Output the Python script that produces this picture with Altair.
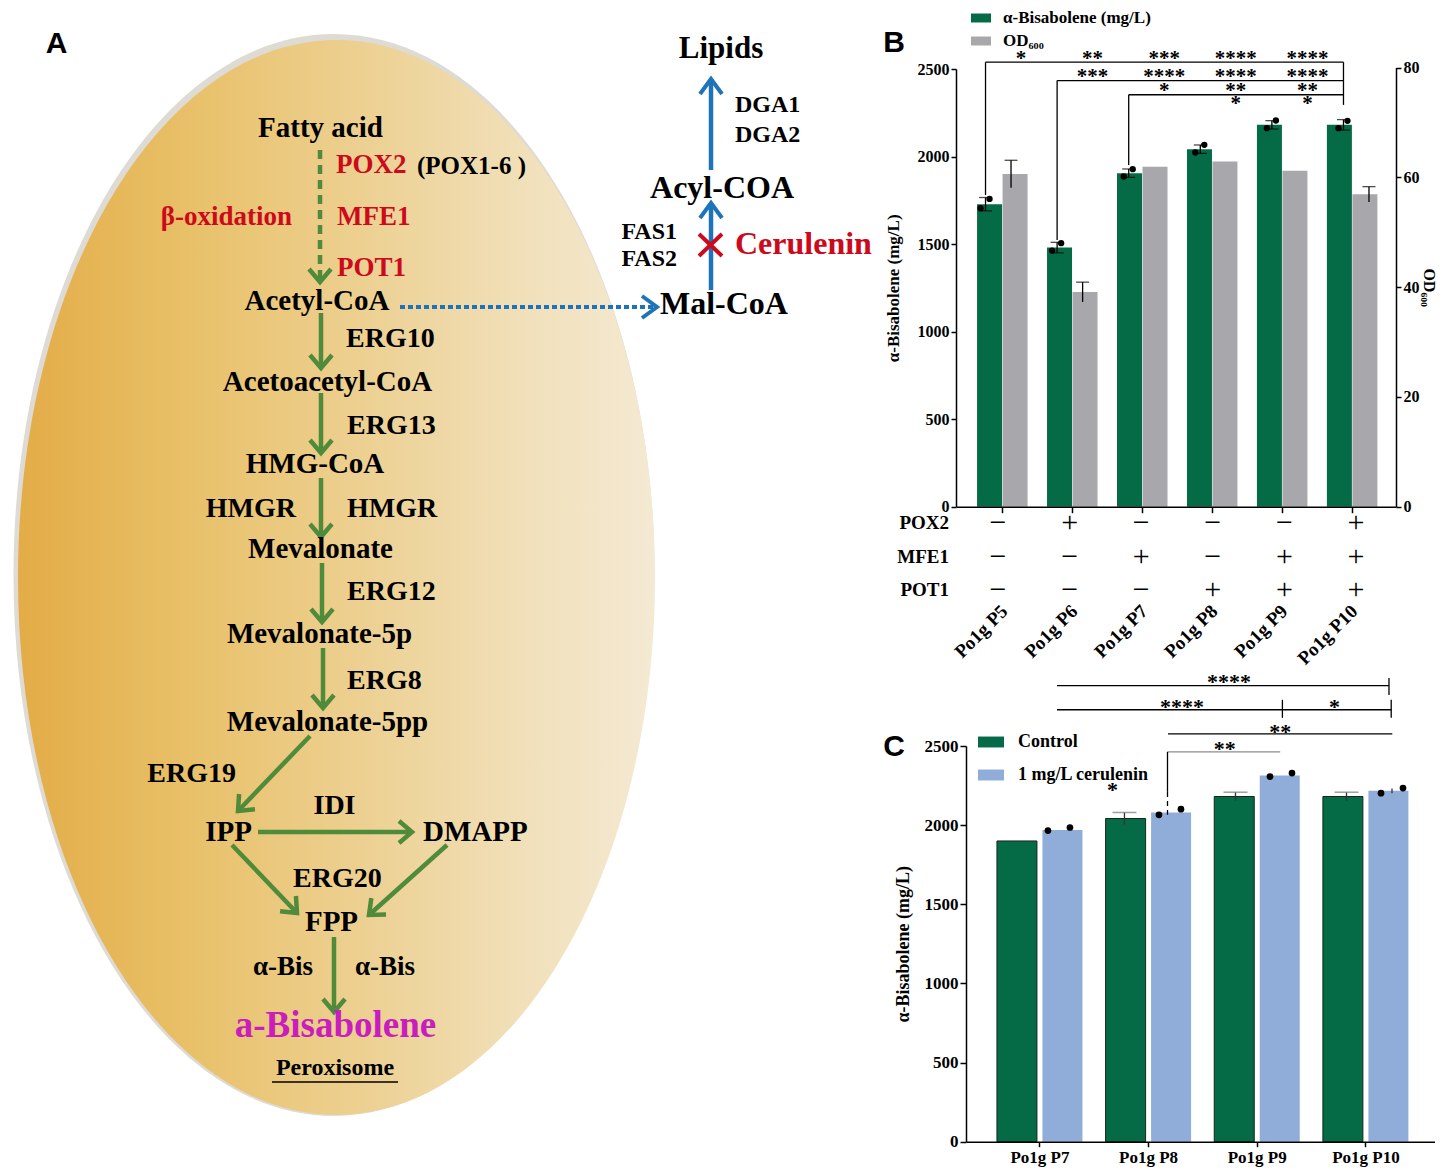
import math
import altair as alt
import pandas as pd

# ------------------------------------------------------------------
# Values
# ------------------------------------------------------------------
strains_b = ["Po1g P5", "Po1g P6", "Po1g P7", "Po1g P8", "Po1g P9", "Po1g P10"]
bis_mean = [1728, 1480, 1905, 2042, 2181, 2181]
bis_sd = [38, 30, 24, 24, 24, 30]
bis_rep1 = [1705, 1463, 1886, 2023, 2162, 2162]
bis_rep2 = [1758, 1505, 1928, 2067, 2206, 2204]
od_mean = [60.6, 39.1, 61.9, 62.9, 61.2, 56.9]
od_sd = [2.5, 1.8, 0.0, 0.0, 0.0, 1.4]
pox2 = ["−", "+", "−", "−", "−", "+"]
mfe1 = ["−", "−", "+", "−", "+", "+"]
pot1 = ["−", "−", "−", "+", "+", "+"]
gene_names = ["POX2", "MFE1", "POT1"]
series_b = ["α-Bisabolene (mg/L)", "OD₆₀₀"]

# significance marks, panel B (column = strain index, level in mg/L units)
b_star_col = [0, 1, 2, 3, 4, 1, 2, 3, 4, 2, 3, 4, 3, 4]
b_star_lvl = [2581, 2581, 2581, 2581, 2581, 2477, 2477, 2477, 2477, 2397, 2397, 2397, 2324, 2324]
b_star_txt = ["*", "**", "***", "****", "****", "***", "****", "****", "****", "*", "**", "**", "*", "*"]
b_brk_from = [0, 1, 2]
b_brk_to = [5, 5, 5]
b_brk_lvl = [2539, 2434, 2353]
b_drop_col = [0, 1, 2, 5]
b_drop_top = [2539, 2434, 2353, 2539]
b_drop_bot = [1780, 1524, 1952, 2295]

strains_c = ["Po1g P7", "Po1g P8", "Po1g P9", "Po1g P10"]
series_c = ["Control", "1 mg/L  cerulenin"]
ctrl_mean = [1900, 2042, 2181, 2181]
ctrl_sd = [0, 38, 27, 27]
cer_mean = [1970, 2080, 2313, 2217]
cer_sd = [0, 0, 0, 15]
cer_rep1 = [1966, 2065, 2307, 2202]
cer_rep2 = [1985, 2101, 2329, 2234]

# significance marks, panel C
c_brk_x0 = [0.19, 0.19, 1.19, 1.185]
c_brk_x1 = [3.18, 3.20, 3.21, 2.20]
c_brk_lvl = [2881, 2729, 2577, 2463]
c_brk_col = ["black", "black", "black", "#8c8c8c"]
c_tick_x = [3.18, 2.22, 3.20, 1.185]
c_tick_top = [2930, 2792, 2792, 2463]
c_tick_bot = [2823, 2678, 2678, 2210]
c_star_x = [1.74, 1.315, 2.69, 2.20, 1.70, 0.69]
c_star_lvl = [2931, 2773, 2773, 2615, 2508, 2248]
c_star_txt = ["****", "****", "*", "**", "**", "*"]

# ------------------------------------------------------------------
# Styles / layout
# ------------------------------------------------------------------
W, H = 1431, 1159
SERIF = "Liberation Serif"
SANS = "Liberation Sans"
GREEN = "#046B46"
GRAY = "#A8A8AC"
BLUE = "#8FADD8"
ARROW_GREEN = "#4F8B3B"
ARROW_BLUE = "#1E73B9"
RED = "#CC0A1C"
MAGENTA = "#C81EBE"

PX = alt.Scale(domain=[8, 8 + W], range=[0, W], nice=False, zero=False)
PY = alt.Scale(domain=[8, 8 + H], range=[0, H], nice=False, zero=False)


def pxy(xf="x", yf="y"):
    return dict(x=alt.X(f"{xf}:Q", scale=PX, axis=None),
                y=alt.Y(f"{yf}:Q", scale=PY, axis=None))


layers = []

# ---------------- diagram (panel A) ----------------
a = 1.0
b = 1.6876
k = 0.5523
ell_path = (f"M 0 {-b} C {k*a} {-b} {a} {-k*b} {a} 0 C {a} {k*b} {k*a} {b} 0 {b} "
            f"C {-k*a} {b} {-a} {k*b} {-a} 0 C {-a} {-k*b} {-k*a} {-b} 0 {-b} Z")
grad = alt.LinearGradient(
    gradient="linear",
    stops=[alt.GradientStop(color="#E3AC47", offset=0),
           alt.GradientStop(color="#E8BF66", offset=0.25),
           alt.GradientStop(color="#EDD193", offset=0.55),
           alt.GradientStop(color="#F1E0BA", offset=0.8),
           alt.GradientStop(color="#F4E9D3", offset=1)],
    x1=0, x2=1, y1=0.5, y2=0.5)

layers.append(alt.Chart(pd.DataFrame({"x": [334], "y": [575]})).mark_point(
    shape=ell_path, size=641 ** 2, filled=True, color="#DEDAD4", opacity=1, strokeWidth=0
).encode(**pxy()))
layers.append(alt.Chart(pd.DataFrame({"x": [336.5], "y": [577.5]})).mark_point(
    shape=ell_path, size=637 ** 2, filled=True, fill=grad, opacity=1, strokeWidth=0
).encode(**pxy()))

txt_center = pd.DataFrame([
    ("Fatty acid", 320.5, 127.5, 29, "black"),
    ("Acetyl-CoA", 317, 301, 29, "black"),
    ("Acetoacetyl-CoA", 327.5, 382, 29, "black"),
    ("HMG-CoA", 315, 464, 29, "black"),
    ("Mevalonate", 320.5, 549, 29, "black"),
    ("Mevalonate-5p", 319.5, 634, 29, "black"),
    ("Mevalonate-5pp", 327.5, 722, 29, "black"),
    ("IDI", 334.5, 806, 28, "black"),
    ("FPP", 331.5, 922, 29, "black"),
    ("a-Bisabolene", 335.5, 1026, 37, MAGENTA),
    ("Peroxisome", 335, 1068, 24, "black"),
    ("Lipids", 721, 49, 31, "black"),
    ("Acyl-COA", 722, 188, 32, "black"),
], columns=["label", "x", "y", "size", "color"])

txt_left = pd.DataFrame([
    ("POX2", 336, 165, 27, RED),
    ("(POX1-6 )", 417, 166, 25, "black"),
    ("MFE1", 337, 216.5, 27, RED),
    ("POT1", 337, 267.5, 27, RED),
    ("ERG10", 346, 339, 28, "black"),
    ("ERG13", 347, 426, 28, "black"),
    ("HMGR", 347, 509, 28, "black"),
    ("ERG12", 347, 592, 28, "black"),
    ("ERG8", 347, 681, 28, "black"),
    ("DMAPP", 423, 832, 29, "black"),
    ("ERG20", 293, 879, 28, "black"),
    ("α-Bis", 355, 967, 27, "black"),
    ("DGA1", 735, 104.5, 24, "black"),
    ("DGA2", 735, 135, 24, "black"),
    ("Cerulenin", 735, 244, 32, RED),
    ("Mal-CoA", 660, 304, 32, "black"),
], columns=["label", "x", "y", "size", "color"])

txt_right = pd.DataFrame([
    ("β-oxidation", 292, 217, 27, RED),
    ("HMGR", 296, 509, 28, "black"),
    ("ERG19", 236, 774, 28, "black"),
    ("IPP", 252, 832, 29, "black"),
    ("α-Bis", 313, 967, 27, "black"),
    ("FAS1", 677, 231.5, 24, "black"),
    ("FAS2", 677, 259, 24, "black"),
    ("POX2", 949, 523, 19, "black"),
    ("MFE1", 949, 557, 19, "black"),
    ("POT1", 949, 590, 19, "black"),
], columns=["label", "x", "y", "size", "color"])


def text_layer(df, align):
    return alt.Chart(df).mark_text(align=align, baseline="middle", font=SERIF,
                                   fontWeight="bold").encode(
        **pxy(), text="label:N",
        size=alt.Size("size:Q", scale=None),
        color=alt.Color("color:N", scale=None))


green_solid = pd.DataFrame([
    (321, 313, 321, 368), (321, 393, 321, 453), (321, 478, 321, 537),
    (322, 563, 322, 622), (323, 648, 323, 708), (310, 736, 238, 811),
    (258, 832, 412, 832), (232, 845, 297, 913), (447, 845, 369, 915),
    (334, 937, 334, 1012)], columns=["x", "y", "x2", "y2"])
green_dash = pd.DataFrame([(320, 150, 320, 282)], columns=["x", "y", "x2", "y2"])
blue_solid = pd.DataFrame([(711, 170, 711, 79), (711, 290, 711, 203)],
                          columns=["x", "y", "x2", "y2"])
blue_dot = pd.DataFrame([(400, 307, 657, 307)], columns=["x", "y", "x2", "y2"])
red_cross = pd.DataFrame([(699, 234, 722, 256), (699, 256, 722, 234)],
                         columns=["x", "y", "x2", "y2"])
underline = pd.DataFrame([(272, 1082, 398, 1082)], columns=["x", "y", "x2", "y2"])


def seg_layer(df, color, width, dash=None):
    kw = dict(color=color, strokeWidth=width)
    if dash:
        kw["strokeDash"] = dash
    return alt.Chart(df).mark_rule(**kw).encode(
        **pxy(), x2=alt.X2("x2:Q"), y2=alt.Y2("y2:Q"))


def heads(df):
    h = pd.DataFrame({"x": df["x2"].values, "y": df["y2"].values})
    h["ang"] = [(math.degrees(math.atan2(r.y2 - r.y, r.x2 - r.x)) + 360) % 360
                for r in df.itertuples()]
    return h


CHEV_G = "M -1.3 -1.1 L 0 0 L -1.3 1.1"
CHEV_B = "M -1.5 -1.1 L 0 0 L -1.5 1.1"


def head_layer(df, color, path, width):
    return alt.Chart(heads(df)).mark_point(
        shape=path, size=400, filled=False, color=color, strokeWidth=width,
        opacity=1, strokeJoin="miter").encode(
        **pxy(), angle=alt.Angle("ang:Q", scale=None))


layers += [
    seg_layer(green_solid, ARROW_GREEN, 4.5),
    seg_layer(green_dash, ARROW_GREEN, 4.5, [9, 6]),
    seg_layer(blue_solid, ARROW_BLUE, 4.5),
    seg_layer(blue_dot, ARROW_BLUE, 4, [5, 3]),
    seg_layer(red_cross, RED, 4),
    seg_layer(underline, "black", 1.5),
    head_layer(pd.concat([green_solid, green_dash]), ARROW_GREEN, CHEV_G, 4.5),
    head_layer(pd.concat([blue_solid, blue_dot]), ARROW_BLUE, CHEV_B, 4),
    text_layer(txt_center, "center"),
    text_layer(txt_left, "left"),
    text_layer(txt_right, "right"),
    alt.Chart(pd.DataFrame({"label": ["A", "B", "C"], "x": [56.5, 894, 894],
                            "y": [44, 43, 747]})).mark_text(
        font=SANS, fontWeight="bold", fontSize=30, baseline="middle", align="center",
        color="black").encode(**pxy(), text="label:N"),
]


# ---------------- axes helper ----------------
def ax(**kw):
    base = dict(grid=False, domainColor="black", tickColor="black", labelColor="black",
                titleColor="black", labelFont=SERIF, titleFont=SERIF,
                labelFontWeight="bold", titleFontWeight="bold", domainWidth=1.5,
                tickWidth=1.5, labelFlush=False, labelOverlap=False, zindex=1)
    base.update(kw)
    return alt.Axis(**base)


def label_expr(names):
    return "[" + ",".join(f"'{n}'" for n in names) + "][datum.value]"


# ---------------- panel B ----------------
bx = alt.Scale(domain=[-0.587, 5.559], range=[948, 1388], nice=False, zero=False)
by = alt.Scale(domain=[0, 2500], range=[498.7, 61], nice=False, zero=False)
by_od = alt.Scale(domain=[0, 80], range=[498.7, 59.5], nice=False, zero=False)
col_b = alt.Scale(domain=series_b, range=[GREEN, GRAY])

df_b = pd.DataFrame({"i": list(range(6)), "strain": strains_b, "bis": bis_mean,
                     "sd": bis_sd, "rep1": bis_rep1, "rep2": bis_rep2,
                     "od": od_mean, "od_sd": od_sd,
                     "s_bis": series_b[0], "s_od": series_b[1]})
df_b["lo"] = df_b["bis"] - df_b["sd"]
df_b["hi"] = df_b["bis"] + df_b["sd"]
df_b["od_lo"] = df_b["od"] - df_b["od_sd"]
df_b["od_hi"] = df_b["od"] + df_b["od_sd"]
df_b_oderr = df_b[df_b["od_sd"] > 0]

XB = alt.X("i:Q", scale=bx, axis=None)


def YB(f):
    return alt.Y(f, scale=by, axis=None)


legB = alt.Legend(orient="none", legendX=963, legendY=0, title=None, direction="vertical",
                  symbolType="M -1 -0.45 L 1 -0.45 L 1 0.45 L -1 0.45 Z", symbolSize=400,
                  symbolStrokeWidth=0, labelFont=SERIF, labelFontWeight="bold",
                  labelFontSize=17, labelColor="black", labelOffset=12, rowPadding=5,
                  padding=0)

bx_axis = ax(orient="bottom", offset=498.7 - H, values=list(range(6)),
             labelExpr=label_expr(strains_b), labelAngle=-45, labelAlign="right",
             labelBaseline="middle", labelPadding=95, labelOffset=2, tickSize=6,
             labelFontSize=19, title=None)
by_axis = ax(orient="left", offset=-948, values=[0, 500, 1000, 1500, 2000, 2500],
             format="d", tickSize=5, labelFontSize=16, title="α-Bisabolene  (mg/L)",
             titleFontSize=17, titlePadding=15)
byod_axis = ax(orient="right", offset=1388 - W, values=[0, 20, 40, 60, 80], format="d",
               tickSize=5, labelFontSize=16, title="OD₆₀₀", titleFontSize=16, titleAngle=90,
               titlePadding=1)

layers.append(alt.Chart(df_b).mark_bar(orient="vertical", width=25, xOffset=-12.5).encode(
    x=alt.X("i:Q", scale=bx, axis=bx_axis),
    y=alt.Y("bis:Q", scale=by, axis=by_axis),
    color=alt.Color("s_bis:N", scale=col_b, legend=legB)))
layers.append(alt.Chart(df_b).mark_bar(orient="vertical", width=25, xOffset=13).encode(
    x=XB, y=alt.Y("od:Q", scale=by_od, axis=byod_axis),
    color=alt.Color("s_od:N", scale=col_b, legend=None)))
layers.append(alt.Chart(df_b).mark_rule(xOffset=-12.5, color="black", strokeWidth=1.3).encode(
    x=XB, y=YB("lo:Q"), y2="hi:Q"))
for f in ["hi:Q", "lo:Q"]:
    layers.append(alt.Chart(df_b).mark_tick(orient="horizontal", size=13, thickness=1.3,
                                            xOffset=-12.5, color="black").encode(
        x=XB, y=YB(f)))
layers.append(alt.Chart(df_b).mark_circle(size=40, color="black", opacity=1,
                                          xOffset=-17.5).encode(x=XB, y=YB("rep1:Q")))
layers.append(alt.Chart(df_b).mark_circle(size=40, color="black", opacity=1,
                                          xOffset=-8.5).encode(x=XB, y=YB("rep2:Q")))
layers.append(alt.Chart(df_b_oderr).mark_rule(xOffset=13, color="black",
                                              strokeWidth=1.3).encode(
    x=XB, y=alt.Y("od_lo:Q", scale=by_od, axis=None), y2="od_hi:Q"))
layers.append(alt.Chart(df_b_oderr).mark_tick(orient="horizontal", size=13, thickness=1.3,
                                              xOffset=13, color="black").encode(
    x=XB, y=alt.Y("od_hi:Q", scale=by_od, axis=None)))

df_brk_b = pd.DataFrame({"x0": b_brk_from, "x1": b_brk_to, "lvl": b_brk_lvl})
layers.append(alt.Chart(df_brk_b).mark_rule(xOffset=-12.5, x2Offset=-12.5, color="black",
                                            strokeWidth=1.3).encode(
    x=alt.X("x0:Q", scale=bx, axis=None), x2="x1:Q", y=YB("lvl:Q")))
df_drop_b = pd.DataFrame({"i": b_drop_col, "top": b_drop_top, "bot": b_drop_bot})
layers.append(alt.Chart(df_drop_b).mark_rule(xOffset=-12.5, color="black",
                                             strokeWidth=1.3).encode(
    x=XB, y=YB("top:Q"), y2="bot:Q"))
df_star_b = pd.DataFrame({"i": b_star_col, "lvl": b_star_lvl, "t": b_star_txt})
layers.append(alt.Chart(df_star_b).mark_text(dx=23, dy=4, font=SERIF, fontWeight="bold",
                                              fontSize=21, color="black").encode(
    x=XB, y=YB("lvl:Q"), text="t:N"))

for row_y, syms in zip([523, 557, 590], [pox2, mfe1, pot1]):
    dfg = pd.DataFrame({"i": list(range(6)), "sym": syms})
    layers.append(alt.Chart(dfg).mark_text(font=SERIF, fontSize=30, color="black",
                                           baseline="middle").encode(
        x=XB, y=alt.value(row_y - 8), text="sym:N"))

# ---------------- panel C ----------------
cx = alt.Scale(domain=[-0.63, 3.59], range=[958, 1426.5], nice=False, zero=False)
cy = alt.Scale(domain=[0, 2500], range=[1133.7, 738], nice=False, zero=False)
col_c = alt.Scale(domain=series_c, range=[GREEN, BLUE])
XC = alt.X("i:Q", scale=cx, axis=None)


def YC(f):
    return alt.Y(f, scale=cy, axis=None)


df_c = pd.DataFrame({"i": list(range(4)), "strain": strains_c, "ctrl": ctrl_mean,
                     "ctrl_sd": ctrl_sd, "cer": cer_mean, "cer_sd": cer_sd,
                     "rep1": cer_rep1, "rep2": cer_rep2,
                     "s_ctrl": series_c[0], "s_cer": series_c[1]})
df_c["c_lo"] = df_c["ctrl"] - df_c["ctrl_sd"]
df_c["c_hi"] = df_c["ctrl"] + df_c["ctrl_sd"]
df_c["e_lo"] = df_c["cer"] - df_c["cer_sd"]
df_c["e_hi"] = df_c["cer"] + df_c["cer_sd"]
df_c_ce = df_c[df_c["ctrl_sd"] > 0]
df_c_ee = df_c[df_c["cer_sd"] > 0]

legC = alt.Legend(orient="none", legendX=970, legendY=721, title=None, direction="vertical",
                  symbolType="M -1 -0.42 L 1 -0.42 L 1 0.42 L -1 0.42 Z", symbolSize=676,
                  symbolStrokeWidth=0, labelFont=SERIF, labelFontWeight="bold",
                  labelFontSize=18, labelColor="black", labelOffset=14, rowPadding=11,
                  padding=0)
cx_axis = ax(orient="bottom", offset=1133.7 - H, values=[0, 1, 2, 3],
             labelExpr=label_expr(strains_c), labelAngle=0, labelAlign="center",
             labelBaseline="top", labelPadding=3, tickSize=5, labelFontSize=17, title=None)
cy_axis = ax(orient="left", offset=-958, values=[0, 500, 1000, 1500, 2000, 2500],
             format="d", tickSize=6, labelFontSize=17, title="α-Bisabolene  (mg/L)",
             titleFontSize=18, titlePadding=12)

layers.append(alt.Chart(df_c).mark_bar(orient="vertical", width=40, xOffset=-22.5,
                                       stroke="#16261e", strokeWidth=1).encode(
    x=alt.X("i:Q", scale=cx, axis=cx_axis),
    y=alt.Y("ctrl:Q", scale=cy, axis=cy_axis),
    color=alt.Color("s_ctrl:N", scale=col_c, legend=legC)))
layers.append(alt.Chart(df_c).mark_bar(orient="vertical", width=40, xOffset=23).encode(
    x=XC, y=YC("cer:Q"), color=alt.Color("s_cer:N", scale=col_c, legend=None)))
layers.append(alt.Chart(df_c_ce).mark_rule(xOffset=-22.5, color="#333333",
                                           strokeWidth=1.3).encode(
    x=XC, y=YC("c_lo:Q"), y2="c_hi:Q"))
layers.append(alt.Chart(df_c_ce).mark_tick(orient="horizontal", size=24, thickness=1.5,
                                           xOffset=-22.5, color="#777777").encode(
    x=XC, y=YC("c_hi:Q")))
layers.append(alt.Chart(df_c_ee).mark_rule(xOffset=23, color="#333333",
                                           strokeWidth=1.3).encode(
    x=XC, y=YC("e_lo:Q"), y2="e_hi:Q"))
layers.append(alt.Chart(df_c).mark_circle(size=45, color="black", opacity=1,
                                          xOffset=12).encode(x=XC, y=YC("rep1:Q")))
layers.append(alt.Chart(df_c).mark_circle(size=45, color="black", opacity=1,
                                          xOffset=34).encode(x=XC, y=YC("rep2:Q")))

df_brk_c = pd.DataFrame({"x0": c_brk_x0, "x1": c_brk_x1, "lvl": c_brk_lvl, "col": c_brk_col})
layers.append(alt.Chart(df_brk_c).mark_rule(strokeWidth=1.3).encode(
    x=alt.X("x0:Q", scale=cx, axis=None), x2="x1:Q", y=YC("lvl:Q"),
    color=alt.Color("col:N", scale=None)))
df_tick_c = pd.DataFrame({"x": c_tick_x, "top": c_tick_top, "bot": c_tick_bot})
layers.append(alt.Chart(df_tick_c).mark_rule(strokeWidth=1.3, color="black").encode(
    x=alt.X("x:Q", scale=cx, axis=None), y=YC("top:Q"), y2="bot:Q"))
layers.append(alt.Chart(pd.DataFrame({"x": [1.185], "top": [2210], "bot": [2065]})).mark_rule(
    strokeWidth=1.3, color="black", strokeDash=[5, 4]).encode(
    x=alt.X("x:Q", scale=cx, axis=None), y=YC("top:Q"), y2="bot:Q"))
df_star_c = pd.DataFrame({"x": c_star_x, "lvl": c_star_lvl, "t": c_star_txt})
layers.append(alt.Chart(df_star_c).mark_text(dy=4, font=SERIF, fontWeight="bold",
                                              fontSize=22, color="black").encode(
    x=alt.X("x:Q", scale=cx, axis=None), y=YC("lvl:Q"), text="t:N"))

# ---------------- compose ----------------
chart = alt.layer(*layers).resolve_scale(
    x="independent", y="independent", color="independent"
).properties(width=W, height=H, padding=0, background="white").configure_view(stroke=None)

chart.save("out.html", embed_options={"renderer": "svg", "actions": False})
